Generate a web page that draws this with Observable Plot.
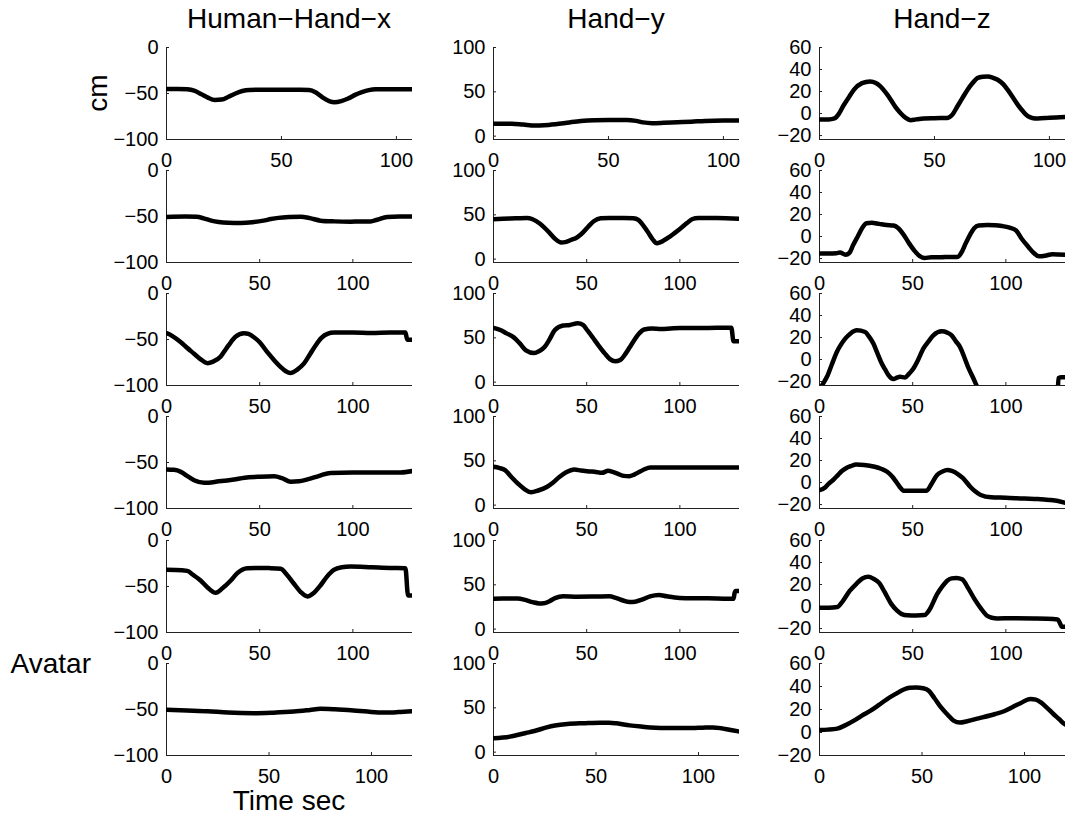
<!DOCTYPE html>
<html><head><meta charset="utf-8">
<script src="https://cdn.jsdelivr.net/npm/d3@7"></script>
<script src="https://cdn.jsdelivr.net/npm/@observablehq/plot@0.6"></script>
<style>
body{margin:0;background:#fff;}
#fig{position:relative;width:1073px;height:815px;overflow:hidden;background:#fff;font-family:"Liberation Sans",Arial,sans-serif;}
</style></head><body><div id="fig"></div>
<script>
// ---- data: [time sec, cm] per panel (row = trial, column = axis) ----
const r1x = [[0,-45],[5,-45],[9,-45.5],[12,-47],[15,-50.5],[18,-54.5],[21,-57],[24,-56.5],[27,-53.5],[30,-50],[33,-47.3],[36,-46.2],[40,-46],[50,-46],[58,-46],[62,-46.3],[65,-49],[68,-54.5],[71,-58.5],[73,-59.5],[76,-58.3],[79,-55.5],[82,-51.5],[85,-48.5],[88,-46.3],[91,-45.5],[100,-45.5],[107,-45.5]];
const r1y = [[0,14],[8,14],[13,13],[18,12],[22,12.3],[27,13.5],[33,15.5],[38,17],[44,18],[50,18.3],[58,18.3],[62,17.2],[65,15.5],[69,14.6],[74,15],[80,15.7],[86,16.3],[92,17.1],[100,17.5],[107,17.5]];
const r1z = [[0,-5.4],[4,-5.4],[6.5,-4.5],[8.5,0],[10.5,7.5],[13,15.5],[15,21.7],[18.5,27.6],[22,29.2],[24.5,27.8],[26.5,24.7],[29,18.5],[31,12.6],[33,6],[35.2,0.5],[37.5,-4],[39.6,-6],[42,-5.3],[45.4,-4.5],[50,-4.2],[55.6,-4],[57.8,-1],[60,6.6],[62,13.5],[64.4,21.7],[66.5,27.5],[68.7,32.2],[71,33.5],[73.1,33.7],[75.5,32.5],[77.5,30.7],[80,26.5],[81.8,21.7],[84,15],[86.2,8.1],[88.5,2],[90.6,-2.4],[92.5,-4],[94.9,-4.5],[100,-3.8],[107,-3.1]];
const r2x = [[0,-50.5],[10,-50],[16,-50.3],[20,-52],[24,-54.5],[28,-56],[33,-56.8],[40,-57],[46,-56.2],[52,-54.5],[56,-52.8],[60,-51.5],[66,-50.6],[72,-50.3],[77,-51.8],[82.6,-54.5],[90,-55.3],[98.8,-55.6],[104,-55.3],[109.5,-55.3],[113,-53.5],[118.4,-50.5],[125,-50],[132,-50]];
const r2y = [[0,45],[5,45.5],[12,46],[18,46.5],[21,45],[25,40],[29,32],[33,23],[36.3,18.7],[39,19.5],[42,22],[44.1,23.6],[47,28],[51,37],[54,43],[57.5,46],[62,46.5],[70,46.5],[75,46],[77.6,44.5],[80,39],[83,30],[85.5,22],[87.6,18],[90,19.5],[95,26],[100,34],[104,41],[106.5,45],[110,46.5],[120,46.5],[132,45.5]];
const r2z = [[0,-15.5],[5,-15.5],[9,-15.2],[11,-14.5],[14,-16.5],[16,-15],[18,-8],[20.5,0],[23,8],[25.2,12],[28,12.5],[32,11.5],[36,10.5],[39.7,10],[42,8],[45,2],[48,-6],[51,-13],[54,-18],[56.4,-19.5],[60,-18.8],[65,-18.8],[70,-18.5],[74.2,-18.5],[76,-15],[78.5,-6],[80.9,2],[83,7.5],[85.4,10],[90,10.5],[94.3,10.3],[98,9.5],[102,8],[105.5,5.5],[108.5,-2],[112.1,-9.5],[115,-15],[117.7,-18],[121,-17.5],[125,-16],[132,-16.5]];
const r3x = [[0,-43],[3,-46],[7.7,-53],[11,-59],[14.8,-65.5],[18,-71],[22,-75.7],[25,-74],[29.1,-68.4],[32,-60],[34.5,-53],[37,-47],[41.6,-43.2],[44,-44],[46.9,-47.5],[50,-53],[54.1,-63.8],[58,-73],[61.3,-80],[64,-84.5],[66.6,-86.5],[70,-83],[73.7,-76.3],[77,-66],[80,-56.5],[83,-48.5],[86.3,-43.9],[90,-42.5],[100,-42.5],[110,-43],[120,-42.5],[128.2,-42.5],[129.2,-50.3],[132,-50.3]];
const r3y = [[0,61.3],[4,58.5],[7,55],[10.7,50.8],[14,44],[17.4,35.9],[21.8,32.8],[24.5,35],[27.4,39.6],[30,48],[33,59],[37.4,63.9],[41,64.5],[45.2,66.5],[48,64.5],[50.5,58],[53.1,50.8],[56.5,41],[59.8,32.2],[62.5,26],[65.3,23.5],[68,25],[70.9,32.2],[73,39],[75.4,47],[78,54.5],[80.9,59.4],[85,60.5],[90,60],[95,60.5],[100,61],[110,61],[120,61.3],[127.6,61.3],[128.8,46],[132,46]];
const r3z = [[0,-27],[1.5,-23],[4,-15.7],[6.5,-5],[9.3,6.9],[11.5,13.5],[13.8,19],[16.5,23.5],[20,26.5],[24.5,25],[26.5,21],[28.9,14.5],[31,6],[33.4,-3.6],[35.2,-9],[37,-14.2],[39.7,-17.8],[41.5,-16.5],[43.2,-15.7],[45.9,-16.3],[48,-13],[50.4,-8.1],[53,0],[55.7,9.9],[58.5,16.5],[61.1,22],[65.6,25.6],[68.5,24.5],[70.9,22],[73,17],[75.4,11.4],[77.5,3],[79.8,-7.2],[82,-15],[84.4,-24],[86,-30],[90,-40],[127.6,-40],[128.2,-17],[130,-16],[132,-16]];
const r4x = [[0,-57.6],[4,-58],[7.7,-60.2],[11,-64.5],[14.8,-69.2],[20.2,-72.1],[28,-70.5],[36.2,-68.4],[42,-66.5],[48.8,-65.6],[57.7,-64.9],[62,-67],[66.6,-71],[71,-70.5],[75.6,-68.4],[82,-64.5],[88,-61.3],[100,-61],[110,-61],[120,-61],[125.6,-60.8],[132,-59.3]];
const r4y = [[0,43.2],[3,42],[6.2,39.5],[9.5,32],[13,24.5],[17,17.5],[20.2,14.5],[24,16.5],[28.8,20.7],[32,25.5],[35.5,32],[39,37],[43.4,40.2],[47,39],[51.3,38],[55,37.5],[58.1,36.4],[61.5,38.7],[64,37.5],[67.1,35],[70,33],[72.8,32.7],[75.5,34.5],[78.4,37.6],[81,40.5],[84.1,42.5],[90,42.5],[100,42.5],[110,42.5],[120,42.5],[132,42.5]];
const r4z = [[0,-7],[3,-4.5],[5,-1],[7.3,2.3],[10,7],[12,10.5],[14,12.8],[17,15],[19.6,16.4],[24,16],[29.6,14.3],[33,12.5],[36.3,9.8],[39,5.5],[41,1],[43,-3.8],[45.2,-7.4],[50,-7.5],[55,-7.4],[57.5,-7.4],[60,-1.5],[63.1,6.8],[66,10],[68.6,11.3],[71,10.5],[74.2,7.7],[77,4],[80.9,-3.8],[83.5,-8],[86.5,-11.3],[92.1,-13.4],[100,-13.8],[109.9,-14.6],[117,-15],[123.3,-15.8],[128,-16.8],[132,-18.5]];
const r5x = [[0,-31.9],[5,-32],[11.2,-33],[14,-37],[18.3,-43.5],[22,-51],[26.4,-56.8],[30,-52],[34.5,-43.5],[38,-35.5],[43.4,-30.2],[50,-29.8],[55,-30],[61.3,-30.8],[64.5,-37],[68.4,-47],[72,-56],[75.6,-60.8],[79,-57],[82.6,-48.9],[86,-39.5],[89.8,-31.9],[94,-29],[98.8,-28.2],[110,-29],[120,-29.8],[128.2,-30.1],[129.6,-59.7],[132,-59.7]];
const r5y = [[0,34.4],[5,34.5],[12.9,34.5],[17,33],[21,30.5],[24.5,29],[27,29.2],[30,31.5],[33,35],[37.4,37.2],[45,36.6],[55,36.8],[62,37],[66,35],[70,32],[73,30.7],[76,31],[80,33.5],[84,37],[88.8,38.6],[93,37],[99.9,35.2],[110,34.8],[120,34.6],[128.8,34.2],[129.4,41],[130,43],[132,43]];
const r5z = [[0,-1],[5,-1],[9.6,-0.5],[12.5,5],[16.2,14.2],[20,21],[23,25.5],[26.3,27.1],[29,25.2],[31.9,21.7],[35,13],[38.6,2.2],[41.5,-3.5],[44.2,-6.9],[47,-8],[52,-8.2],[56.4,-7.8],[59,-3],[63.1,11.2],[66,18.5],[68.5,23.5],[70.9,25.6],[73.5,26],[76.5,24.7],[80,16],[83.2,6.7],[86.5,-1.5],[89.9,-8.4],[92.5,-10.2],[95.4,-10.8],[105,-10.7],[115,-10.8],[122,-11],[127.8,-11.7],[129,-15],[130,-18.3],[132,-18.5]];
const r6x = [[0,-50.4],[10,-51],[20,-51.9],[30,-53.3],[42.6,-54],[52,-53.4],[62.1,-52.2],[70,-50.5],[75.1,-49.3],[82,-49.8],[91.3,-51.1],[98,-52.3],[105.9,-53.3],[113,-52.8],[120,-51.9]];
const r6y = [[0,15.6],[8,17.5],[15.8,21.6],[20,23.8],[25.9,27.9],[30,30],[36,31.7],[42,32.5],[46.2,32.8],[52,33.2],[56.3,33.2],[60,32.5],[66.4,30.2],[72,28.8],[76.5,27.9],[86.7,27.2],[96.8,27.2],[102,27.6],[107,27.9],[111,27],[115,25.3],[119.5,23.4],[120,23.2]];
const r6z = [[0,2.2],[4,2.5],[8.7,3.4],[12.5,6.2],[16.8,10.3],[20.5,14.5],[24.9,19],[29,24],[33,29.1],[37,33.4],[41.1,37.4],[44,38.9],[47.2,39.2],[50.5,38.5],[53.3,36.3],[56,30],[59.3,21.8],[62.5,15.5],[65.4,10.3],[68.5,8.6],[72,9.8],[77.6,12.3],[85.7,16.1],[90,18.5],[93.8,21.8],[98,25.5],[102.9,29.1],[105.5,28.6],[108,26.2],[111,21.5],[114.1,16.1],[117,11.5],[119.1,8],[120,7]];

const colTitles = ["Human\u2212Hand\u2212x", "Hand\u2212y", "Hand\u2212z"];
const xMax = [107, 132, 132, 132, 132, 120];
const xTicks = [0, 50, 100];
const yTicks = [[-100, -50, 0], [0, 50, 100], [-20, 0, 20, 40, 60]];
const yDomains = [[-100, 0], [-3.8, 100], [-23.6, 60]];
const yDomainLastZ = [-20, 60];
const series = [[r1x, r1y, r1z], [r2x, r2y, r2z], [r3x, r3y, r3z], [r4x, r4y, r4z], [r5x, r5y, r5z], [r6x, r6y, r6z]];

// ---- layout ----
const colLeft = [166, 493, 819];
const rowTop = [47, 170, 293, 416, 540, 663];
const W = 246, H = 92, mL = 70, mR = 12, mT = 12, mB = 40;
const FONT = '"Liberation Sans", Arial, Helvetica, sans-serif';
const fmt = d => d < 0 ? "\u2212" + Math.abs(d) : String(d);

const fig = document.getElementById("fig");

series.forEach((row, r) => {
  row.forEach((data, c) => {
    const yd = (r === 5 && c === 2) ? yDomainLastZ : yDomains[c];
    const chart = Plot.plot({
      width: W + mL + mR, height: H + mT + mB,
      marginLeft: mL, marginRight: mR, marginTop: mT, marginBottom: mB,
      style: {background: "transparent", overflow: "visible", fontFamily: FONT, fontSize: "20px", color: "#000"},
      x: {domain: [0, xMax[r]]},
      y: {domain: yd},
      marks: [
        Plot.axisX(xTicks, {tickSize: -3, fill: "none", stroke: "#222", label: null}),
        Plot.axisX(xTicks, {tickSize: 0, tickPadding: 13, tickFormat: fmt, fill: "#000", label: null}),
        Plot.axisY(yTicks[c], {tickSize: -3, fill: "none", stroke: "#222", label: null}),
        Plot.axisY(yTicks[c], {tickSize: 0, tickPadding: 8, tickFormat: fmt, fill: "#000", label: null}),
        Plot.ruleX([0], {stroke: "#222", strokeWidth: 1}),
        Plot.ruleY([yd[0]], {stroke: "#222", strokeWidth: 1}),
        Plot.line(data, {x: d => d[0], y: d => d[1], stroke: "#000", strokeWidth: 4.5, curve: "monotone-x", strokeLinejoin: "round", clip: true})
      ]
    });
    chart.style.position = "absolute";
    chart.style.left = (colLeft[c] - mL) + "px";
    chart.style.top = (rowTop[r] - mT) + "px";
    fig.appendChild(chart);
  });
});

// ---- titles & labels ----
const svg = d3.select(fig).append("svg")
  .attr("width", 1073).attr("height", 815)
  .style("position", "absolute").style("left", "0px").style("top", "0px")
  .style("pointer-events", "none")
  .style("font-family", FONT);

colTitles.forEach((t, c) => {
  svg.append("text").attr("x", colLeft[c] + W / 2).attr("y", 28)
    .attr("text-anchor", "middle").attr("font-size", 28).attr("fill", "#000").text(t);
});
svg.append("text").attr("transform", "translate(107,93) rotate(-90)")
  .attr("text-anchor", "middle").attr("font-size", 28).attr("fill", "#000").text("cm");
svg.append("text").attr("x", 91).attr("y", 673)
  .attr("text-anchor", "end").attr("font-size", 28).attr("fill", "#000").text("Avatar");
svg.append("text").attr("x", colLeft[0] + W / 2).attr("y", 810)
  .attr("text-anchor", "middle").attr("font-size", 28).attr("fill", "#000").text("Time sec");
</script></body></html>
